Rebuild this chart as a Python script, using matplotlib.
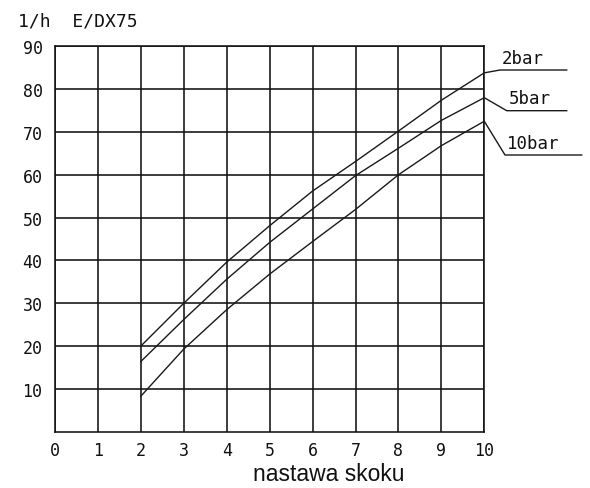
import matplotlib
matplotlib.use("Agg")
import matplotlib.pyplot as plt

# Stroke setting (x) and flow in l/h for three pressures
stroke = [2, 3, 4, 5, 6, 7, 8, 9, 10]
flow_2bar = [20.0, 30.0, 39.6, 48.1, 56.2, 63.1, 70.2, 77.4, 83.8]
flow_5bar = [16.4, 26.2, 35.6, 44.2, 52.0, 59.8, 66.2, 72.7, 78.0]
flow_10bar = [8.3, 19.3, 28.5, 36.8, 44.4, 51.9, 60.0, 66.8, 72.5]
series_labels = ["2bar", "5bar", "10bar"]

x_ticks = list(range(0, 11))
y_ticks = list(range(10, 91, 10))

W, H = 590, 489
fig = plt.figure(figsize=(W / 100, H / 100), dpi=100)
fig.patch.set_facecolor("white")

def fx(px):
    return px / W

def fy(py):
    return 1 - py / H

left, right, top, bottom = 55, 484.3, 47.3, 432.7
ax = fig.add_axes([fx(left), fy(bottom), fx(right) - fx(left), fy(top) - fy(bottom)])
ax.set_xlim(0, 10)
ax.set_ylim(0, 90)

grid_kw = dict(color="#111111", lw=1.15, zorder=1)
for xv in x_ticks:
    ax.axvline(xv, **grid_kw)
for yv in y_ticks:
    ax.axhline(yv, **grid_kw)
for sp in ax.spines.values():
    sp.set_linewidth(1.15)
    sp.set_color("#111111")

mono = "DejaVu Sans Mono"
ax.set_xticks(x_ticks)
ax.set_xticklabels([str(v) for v in x_ticks], family=mono, fontsize=12)
ax.set_yticks(y_ticks)
ax.set_yticklabels([str(v) for v in y_ticks], family=mono, fontsize=12)
ax.tick_params(length=0, pad=9, colors="#111111")
ax.tick_params(axis="x", pad=7)

curve_kw = dict(color="#1a1a1a", lw=1.0, zorder=3)
all_series = [flow_2bar, flow_5bar, flow_10bar]
for ys in all_series:
    ax.plot(stroke, ys, **curve_kw)

# Leader lines from curve ends to underlined labels (knee and end in pixels)
leaders = [
    ((500, 71.0), 566.7),
    ((506.7, 111.7), 566.7),
    ((505, 156.0), 581.7),
]

def to_data(px, py):
    return (px - left) / (right - left) * 10, (bottom - py) / (bottom - top) * 90

for ys, lab, ((kx, ky), ex) in zip(all_series, series_labels, leaders):
    kxd, kyd = to_data(kx, ky)
    exd, _ = to_data(ex, ky)
    ax.plot([stroke[-1], kxd, exd], [ys[-1], kyd, kyd], color="#1a1a1a",
            lw=1.0, clip_on=False, zorder=3)
    ax.text(kxd + 0.05, kyd + 0.8, lab, family=mono, fontsize=12.5,
            ha="left", va="bottom", color="#111111", clip_on=False)

fig.text(fx(18), fy(22), "1/h  E/DX75", family=mono, fontsize=13,
         ha="left", va="center", color="#111111")
fig.text(fx(329), fy(481), "nastawa skoku", family="Liberation Sans",
         fontsize=16.5, ha="center", va="baseline", color="#111111")

fig.savefig("out.png", dpi=100, facecolor="white")
